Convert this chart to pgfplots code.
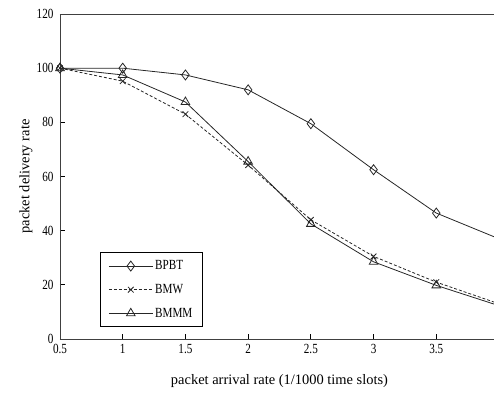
\documentclass[border=0pt]{standalone}
\usepackage{fontspec}
\setmainfont{Liberation Serif}
\newfontfamily\narrowfont[FakeStretch=0.8]{Liberation Serif}
\usepackage{pgfplots}
\pgfplotsset{compat=1.18}
\begin{document}
\begin{tikzpicture}
\begin{axis}[
  at={(0,0)}, anchor=south west,
  scale only axis, width=439bp, height=325bp,
  xmin=0.5, xmax=4, ymin=0, ymax=120,
  xtick={0.5,1,1.5,2,2.5,3,3.5},
  ytick={0,20,40,60,80,100,120},
  xtick pos=lower, ytick pos=left,
  tick align=inside,
  major tick length=5bp,
  tick style={black, line width=0.8pt},
  axis line style={black!75, line width=1pt},
  /pgf/number format/assume math mode=true,
  ticklabel style={font=\narrowfont\fontsize{14}{15}\selectfont},
  xticklabel style={yshift=-2bp},
  yticklabel style={xshift=-3bp},
  xlabel={packet arrival rate (1/1000 time slots)},
  ylabel={packet delivery rate},
  label style={font=\fontsize{14.5}{16}\selectfont},
  xlabel style={at={(axis description cs:0.5,0)}, anchor=base, yshift=-45bp},
  ylabel style={at={(axis description cs:0,0.5)}, anchor=center, yshift=34bp},
  legend style={at={(0.0911,0.0369)}, anchor=south west,
    draw=black, line width=0.8pt, fill=white,
    font=\narrowfont\fontsize{14}{15}\selectfont,
    row sep=9bp, inner xsep=8bp, inner ysep=6bp},
  legend cell align=left,
  legend image code/.code={\draw[mark repeat=2,mark phase=2] plot coordinates {(0bp,0bp) (22bp,0bp) (44bp,0bp)};},
  every axis plot/.append style={line width=0.8pt, black!85},
]
\addplot[mark=diamond, mark size=5bp, mark options={solid, fill=white}]
  coordinates {(0.5,100) (1,100) (1.5,97.5) (2,92) (2.5,79.5) (3,62.5) (3.5,46.5) (4,37)};
\addlegendentry{BPBT}
\addplot[densely dashed, mark=x, mark size=4bp, mark options={solid}]
  coordinates {(0.5,100) (1,95.2) (1.5,83) (2,64.2) (2.5,44) (3,30.5) (3.5,21) (4,13)};
\addlegendentry{BMW}
\addplot[mark=triangle, mark size=5bp, mark options={solid, fill=white}]
  coordinates {(0.5,100) (1,97.5) (1.5,87.5) (2,65.5) (2.5,42.5) (3,28.5) (3.5,19.8) (4,12.3)};
\addlegendentry{BMMM}
\end{axis}
\pgfresetboundingbox
\useasboundingbox (-60bp,-59bp) rectangle (434bp,339bp);
\end{tikzpicture}
\end{document}
